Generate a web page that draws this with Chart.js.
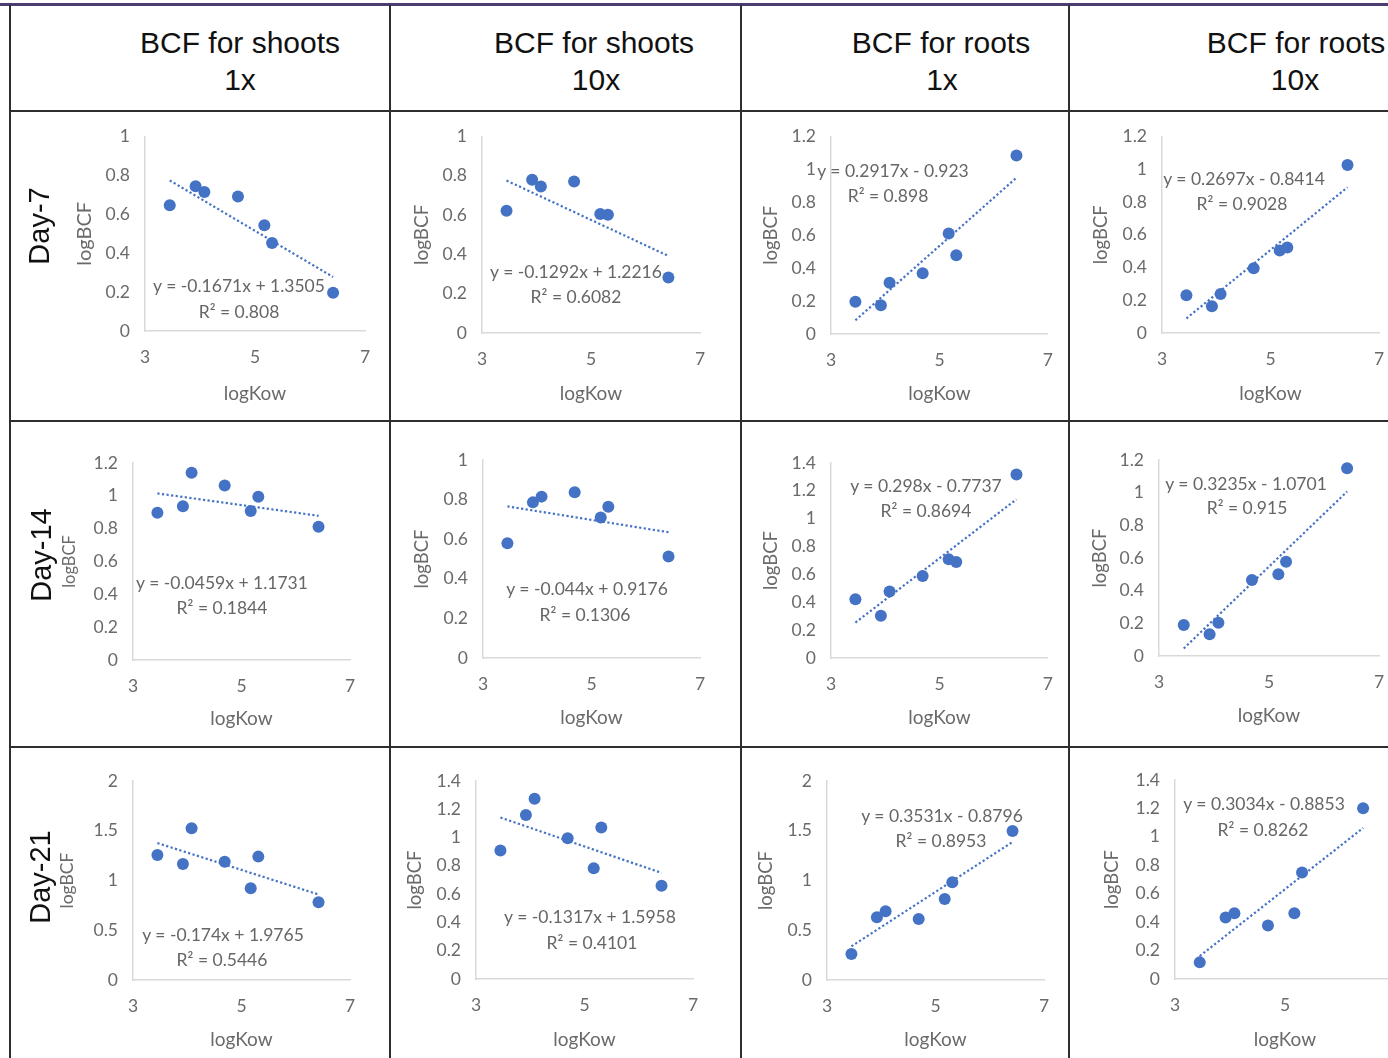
<!DOCTYPE html>
<html>
<head>
<meta charset="utf-8">
<script src="https://cdn.jsdelivr.net/npm/chart.js@4.4.0/dist/chart.umd.min.js"></script>
<style>
html,body{margin:0;padding:0;background:#fff;width:1388px;height:1058px;overflow:hidden;position:relative;}
canvas{position:absolute;}
.ln{position:absolute;background:#2e2e2e;z-index:5;}
.hdr{position:absolute;font-family:"Liberation Sans",Arial,sans-serif;font-size:30px;color:#111;white-space:nowrap;transform:translate(-50%,-50%);line-height:1;z-index:6;}
.day{position:absolute;font-family:"Liberation Sans",Arial,sans-serif;font-size:29px;color:#111;white-space:nowrap;transform:translate(-50%,-50%) rotate(-90deg);line-height:1;z-index:6;}
.eq{position:absolute;font-family:Lato,"Open Sans",sans-serif;font-size:17.5px;color:#666;white-space:nowrap;transform:translate(-50%,-50%);line-height:1;z-index:6;}
</style>
</head>
<body>
<script>
// ---- data ----
const logKow = [3.45, 3.92, 4.08, 4.69, 5.17, 5.31, 6.42];

const shoots1xDay7  = [0.646, 0.744, 0.715, 0.692, 0.544, 0.453, 0.197];
const shoots10xDay7 = [0.622, 0.780, 0.746, 0.771, 0.605, 0.602, 0.283];
const roots1xDay7   = [0.196, 0.175, 0.312, 0.369, 0.611, 0.478, 1.085];
const roots10xDay7  = [0.230, 0.163, 0.238, 0.396, 0.504, 0.522, 1.026];

const shoots1xDay14  = [0.897, 0.937, 1.140, 1.063, 0.907, 0.994, 0.812];
const shoots10xDay14 = [0.579, 0.786, 0.815, 0.837, 0.710, 0.764, 0.513];
const roots1xDay14   = [0.422, 0.303, 0.477, 0.589, 0.709, 0.690, 1.317];
const roots10xDay14  = [0.190, 0.133, 0.204, 0.466, 0.501, 0.577, 1.149];

const shoots1xDay21  = [1.256, 1.166, 1.524, 1.189, 0.921, 1.240, 0.781];
const shoots10xDay21 = [0.908, 1.160, 1.274, 0.995, 0.783, 1.071, 0.660];
const roots1xDay21   = [0.262, 0.631, 0.691, 0.614, 0.815, 0.983, 1.497];
const roots10xDay21  = [0.117, 0.432, 0.462, 0.376, 0.462, 0.749, 1.202];

const seriesList = [shoots1xDay7, shoots10xDay7, roots1xDay7, roots10xDay7,
                    shoots1xDay14, shoots10xDay14, roots1xDay14, roots10xDay14,
                    shoots1xDay21, shoots10xDay21, roots1xDay21, roots10xDay21];

const slopes     = [-0.1671, -0.1292, 0.2917, 0.2697, -0.0459, -0.044, 0.298, 0.3235, -0.174, -0.1317, 0.3531, 0.3034];
const intercepts = [1.3505, 1.2216, -0.923, -0.8414, 1.1731, 0.9176, -0.7737, -1.0701, 1.9765, 1.5958, -0.8796, -0.8853];
const eqTexts = ["y = -0.1671x + 1.3505", "y = -0.1292x + 1.2216", "y = 0.2917x - 0.923", "y = 0.2697x - 0.8414",
                 "y = -0.0459x + 1.1731", "y = -0.044x + 0.9176", "y = 0.298x - 0.7737", "y = 0.3235x - 1.0701",
                 "y = -0.174x + 1.9765", "y = -0.1317x + 1.5958", "y = 0.3531x - 0.8796", "y = 0.3034x - 0.8853"];
const r2Texts = ["R² = 0.808", "R² = 0.6082", "R² = 0.898", "R² = 0.9028",
                 "R² = 0.1844", "R² = 0.1306", "R² = 0.8694", "R² = 0.915",
                 "R² = 0.5446", "R² = 0.4101", "R² = 0.8953", "R² = 0.8262"];
const yMaxes = [1, 1, 1.2, 1.2, 1.2, 1, 1.4, 1.2, 2, 1.4, 2, 1.4];
const ySteps = [0.2, 0.2, 0.2, 0.2, 0.2, 0.2, 0.2, 0.2, 0.5, 0.2, 0.5, 0.2];
const xTickValues = [3, 5, 7];

const colHeaders = [["BCF for shoots", "1x"], ["BCF for shoots", "10x"], ["BCF for roots", "1x"], ["BCF for roots", "10x"]];
const rowHeaders = ["Day-7", "Day-14", "Day-21"];
const xTitle = "logKow";
const yTitle = "logBCF";

// ---- layout (positions/sizes) ----
const colX = [[10, 390], [390, 741], [741, 1069], [1069, 1420]];
const rowY = [[111, 421], [421, 747], [747, 1058]];
// chart area L,R,T,B ; y title center x ; x title center y ; y title font size
const geom = [
  [145, 365, 136, 331, 85, 394, 20], [482, 700, 136, 333, 422, 394, 19], [831, 1051, 136, 334, 771, 394, 18.5], [1162, 1379, 136, 333, 1101, 394, 18.5],
  [133, 350, 463, 660, 70, 719, 16.5], [483, 700, 460, 658, 422, 718, 18.5], [831, 1051, 463, 658, 771, 718, 18.5], [1159, 1379, 460, 656, 1100, 716, 18.5],
  [133, 350, 781, 980, 67, 1040, 17.5], [476, 693, 781, 979, 415, 1040, 18.5], [827, 1044, 781, 980, 766, 1040, 18.5], [1175, 1395, 780, 979, 1112, 1040, 18.5]
];
const eqPos = [
  [239, 286, 239, 312], [576, 272, 576, 297], [893, 171, 888, 196], [1244, 179, 1242, 204],
  [222, 583, 222, 608], [587, 589, 585, 615], [926, 486, 926, 511], [1246, 484, 1247, 508],
  [223, 935, 222, 960], [590, 917, 592, 943], [942, 816, 941, 841], [1264, 804, 1263, 830]
];
const hdrPos = [[240, 43, 240, 80], [594, 43, 596, 80], [941, 43, 942, 80], [1296, 43, 1295, 80]];
const dayPos = [[39, 226], [41, 555], [40, 877]];

const BLUE = '#4472C4';
const GRAY = '#6a6a6a';
Chart.defaults.font.family = 'Lato, "Open Sans", sans-serif';

function fmt(v) { return String(Number(v.toFixed(2))); }

function addDiv(cls, text, x, y) {
  const d = document.createElement('div');
  d.className = cls;
  d.textContent = text;
  d.style.left = x + 'px';
  d.style.top = y + 'px';
  document.body.appendChild(d);
}
function addLine(x, y, w, h, color) {
  const d = document.createElement('div');
  d.className = 'ln';
  d.style.cssText = `left:${x}px;top:${y}px;width:${w}px;height:${h}px;` + (color ? `background:${color};` : '');
  document.body.appendChild(d);
}

for (let i = 0; i < 12; i++) {
  const r = Math.floor(i / 4), c = i % 4;
  const cx = colX[c][0], cw = colX[c][1] - colX[c][0];
  const cy = rowY[r][0], ch = rowY[r][1] - rowY[r][0];
  const [L, R, T, B, yTX, xTY, ys] = geom[i];
  const lhY = ys * 1.2, lhX = 19 * 1.2;
  const scaleLeft = yTX - lhY / 2;
  const padL = scaleLeft - cx;
  const yW = L - scaleLeft;
  const padT = T - cy;
  const padR = cx + cw - R;
  const xBottom = xTY + lhX / 2;
  const xH = xBottom - B;
  const padB = cy + ch - xBottom;

  const cv = document.createElement('canvas');
  cv.width = cw; cv.height = ch;
  cv.style.left = cx + 'px'; cv.style.top = cy + 'px';
  cv.style.width = cw + 'px'; cv.style.height = ch + 'px';
  document.body.appendChild(cv);

  const ys_ = seriesList[i];
  const pts = logKow.map((x, k) => ({x: x, y: ys_[k]}));
  const xMin = Math.min(...logKow), xMax = Math.max(...logKow);
  const trend = [{x: xMin, y: slopes[i] * xMin + intercepts[i]}, {x: xMax, y: slopes[i] * xMax + intercepts[i]}];

  new Chart(cv, {
    type: 'scatter',
    data: {
      datasets: [
        {type: 'line', data: trend, borderColor: BLUE, borderWidth: 2.2, borderDash: [2.2, 2.4], pointRadius: 0, fill: false, order: 0},
        {data: pts, backgroundColor: BLUE, borderColor: BLUE, borderWidth: 0, pointRadius: 6, order: 1}
      ]
    },
    options: {
      responsive: false, animation: false, devicePixelRatio: 1,
      layout: {padding: {left: padL, right: padR, top: padT, bottom: padB}},
      plugins: {legend: {display: false}, tooltip: {enabled: false}},
      scales: {
        x: {
          type: 'linear', min: 3, max: 7,
          afterBuildTicks: s => { s.ticks = xTickValues.map(v => ({value: v})); },
          ticks: {padding: 16, color: GRAY, font: {size: 17.5}, maxRotation: 0},
          grid: {drawOnChartArea: false, drawTicks: false, color: 'rgba(0,0,0,0)'},
          border: {display: true, color: '#d9d9d9', width: 1.5},
          title: {display: true, text: xTitle, color: GRAY, font: {size: 19}, padding: 0},
          afterFit: s => { s.height = xH; }
        },
        y: {
          type: 'linear', min: 0, max: yMaxes[i],
          ticks: {stepSize: ySteps[i], padding: 15, color: GRAY, font: {size: 17.5}, callback: v => fmt(v)},
          grid: {drawOnChartArea: false, drawTicks: false, color: 'rgba(0,0,0,0)'},
          border: {display: true, color: '#d9d9d9', width: 1.5},
          title: {display: true, text: yTitle, color: GRAY, font: {size: ys}, padding: 0},
          afterFit: s => { s.width = yW; }
        }
      }
    }
  });

  addDiv('eq', eqTexts[i], eqPos[i][0], eqPos[i][1]);
  addDiv('eq', r2Texts[i], eqPos[i][2], eqPos[i][3]);
}

for (let c = 0; c < 4; c++) {
  addDiv('hdr', colHeaders[c][0], hdrPos[c][0], hdrPos[c][1]);
  addDiv('hdr', colHeaders[c][1], hdrPos[c][2], hdrPos[c][3]);
}
for (let r = 0; r < 3; r++) addDiv('day', rowHeaders[r], dayPos[r][0], dayPos[r][1]);

// table lines
addLine(0, 3, 1388, 3, '#4b3c72');
[10, 390, 741, 1069].forEach(x => addLine(x - 1, 5, 2, 1053));
[111, 421, 747].forEach(y => addLine(10, y - 1, 1378, 2));
</script>
</body>
</html>
